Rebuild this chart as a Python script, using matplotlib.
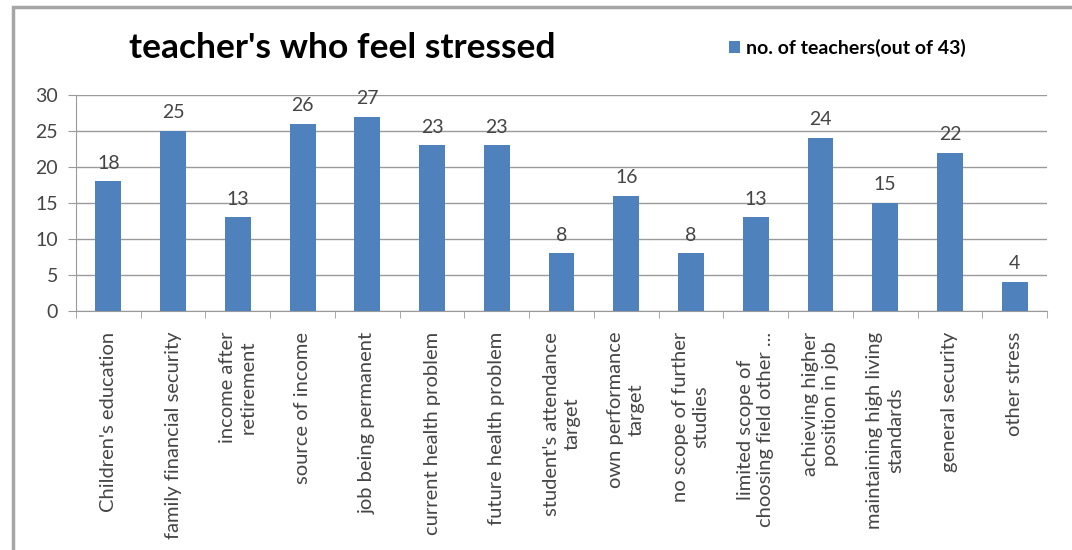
import numpy as np
import matplotlib
matplotlib.use("Agg")
from matplotlib import pyplot as plt
from matplotlib.patches import Rectangle

categories = [
    "Children's education",
    "family financial security",
    "income after\nretirement",
    "source of income",
    "job being permanent",
    "current health problem",
    "future health problem",
    "student's attendance\ntarget",
    "own performance\ntarget",
    "no scope of further\nstudies",
    "limited scope of\nchoosing field other ...",
    "achieving higher\nposition in job",
    "maintaining high living\nstandards",
    "general security",
    "other stress",
]
teachers = [18, 25, 13, 26, 27, 23, 23, 8, 16, 8, 13, 24, 15, 22, 4]
series_name = "no. of teachers(out of 43)"
title = "teacher's who feel stressed"

plt.rcParams["font.family"] = ["Lato", "DejaVu Sans"]
bar_color = "#4F81BD"
text_color = "#454545"
grid_color = "#9a9a9a"

fig = plt.figure(figsize=(10.72, 5.5), dpi=100)
ax = fig.add_axes([0.0709, 0.4345, 0.9058, 0.3928])

x = np.arange(len(categories))
bars = ax.bar(x, teachers, width=0.4, color=bar_color, zorder=3,
              label=series_name)

for xi, v in zip(x, teachers):
    ax.annotate(str(v), (xi, v), xytext=(0, 7), textcoords="offset points",
                ha="center", va="bottom", fontsize=14, color=text_color)

ax.set_xlim(-0.5, len(categories) - 0.5)
ax.set_ylim(0, 30)
ax.set_yticks(range(0, 31, 5))
ax.yaxis.grid(True, color=grid_color, linewidth=1.0)
ax.set_axisbelow(True)

for side in ("top", "right"):
    ax.spines[side].set_visible(False)
ax.spines["left"].set_color(grid_color)
ax.spines["bottom"].set_color(grid_color)

# category labels sit on major ticks, tick marks go between categories
ax.set_xticks(x)
ax.set_xticklabels(categories, rotation=90, va="top", ha="center",
                   multialignment="center", fontsize=14.5, color=text_color,
                   linespacing=1.25)
ax.set_xticks(np.arange(-0.5, len(categories)), minor=True)
ax.tick_params(axis="x", which="major", length=0, pad=15)
ax.tick_params(axis="x", which="minor", length=5, color=grid_color)
ax.tick_params(axis="y", length=6, color=grid_color, labelsize=14,
               labelcolor=text_color, pad=7)

fig.text(0.319, 0.913, title, ha="center", va="center", fontsize=25.5,
         fontweight="bold", color="black")

leg = fig.legend(handles=[bars], labels=[series_name], loc="center left",
                 bbox_to_anchor=(0.664, 0.913), frameon=False,
                 handlelength=0.55, handleheight=0.55, handletextpad=0.3,
                 prop={"weight": "bold", "size": 14})

# outer chart border
fig.patches.append(Rectangle((0.012, -0.05), 1.1, 1.037, transform=fig.transFigure,
                             fill=False, edgecolor="#a6a6a6", linewidth=2.5))

fig.savefig("out.png", dpi=100, facecolor="white")
